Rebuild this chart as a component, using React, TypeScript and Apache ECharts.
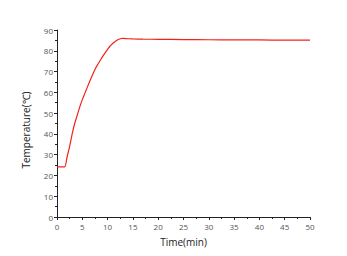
import React, { useEffect, useRef } from "react";
import * as echarts from "echarts";

const timeMin = [0, 1.5, 2, 2.5, 3, 3.5, 4, 4.5, 5, 5.5, 6, 6.5, 7, 7.5, 8, 8.5, 9, 9.5, 10, 10.5, 11, 11.5, 12, 12.5, 13, 14, 15, 17, 20, 25, 30, 35, 40, 45, 50];
const temperature = [24.1, 24.1, 29, 34, 40, 45, 49, 53, 56.5, 59.5, 62.5, 65.5, 68.3, 71, 73.2, 75.2, 77.2, 79, 80.7, 82.3, 83.5, 84.5, 85.3, 85.8, 86, 85.8, 85.7, 85.6, 85.5, 85.4, 85.3, 85.2, 85.2, 85.1, 85.1];

export default function App() {
  const ref = useRef<HTMLDivElement>(null);
  useEffect(() => {
    if (!ref.current) return;
    const chart = echarts.init(ref.current, undefined, { renderer: "svg" });
    const font = "'Open Sans', sans-serif";
    const axisCommon = {
      axisLine: { show: true, lineStyle: { color: "#222", width: 1 } },
      axisTick: { show: true, inside: false, length: 3, lineStyle: { color: "#222" } },
      minorTick: { show: true, splitNumber: 2, length: 2, lineStyle: { color: "#222" } },
      splitLine: { show: false },
      axisLabel: { color: "#555", fontSize: 8, fontFamily: font },
      nameTextStyle: { color: "#222", fontSize: 10, fontFamily: font },
    };
    chart.setOption({
      animation: false,
      grid: { left: 57, right: 37, top: 30, bottom: 39 },
      graphic: [
        {
          type: "text",
          x: 26,
          y: 130,
          rotation: Math.PI / 2,
          style: {
            text: "Temperature(℃)",
            fill: "#222",
            font: "10px 'Open Sans', sans-serif",
            align: "center",
            verticalAlign: "middle",
          },
        },
      ],
      xAxis: {
        type: "value",
        min: 0,
        max: 50,
        interval: 5,
        name: "Time(min)",
        nameLocation: "middle",
        nameGap: 20,
        ...axisCommon,
        axisLabel: { ...axisCommon.axisLabel, margin: 5 },
      },
      yAxis: {
        type: "value",
        min: 0,
        max: 90,
        interval: 10,
        ...axisCommon,
        axisLabel: { ...axisCommon.axisLabel, margin: 4 },
      },
      series: [
        {
          type: "line",
          data: timeMin.map((t, i) => [t, temperature[i]]),
          showSymbol: false,
          smooth: 0.2,
          lineStyle: { color: "#f2231a", width: 1.2 },
        },
      ],
    });
    return () => chart.dispose();
  }, []);
  return <div ref={ref} style={{ position: "absolute", left: 0, top: 0, width: 347, height: 256 }} />;
}
